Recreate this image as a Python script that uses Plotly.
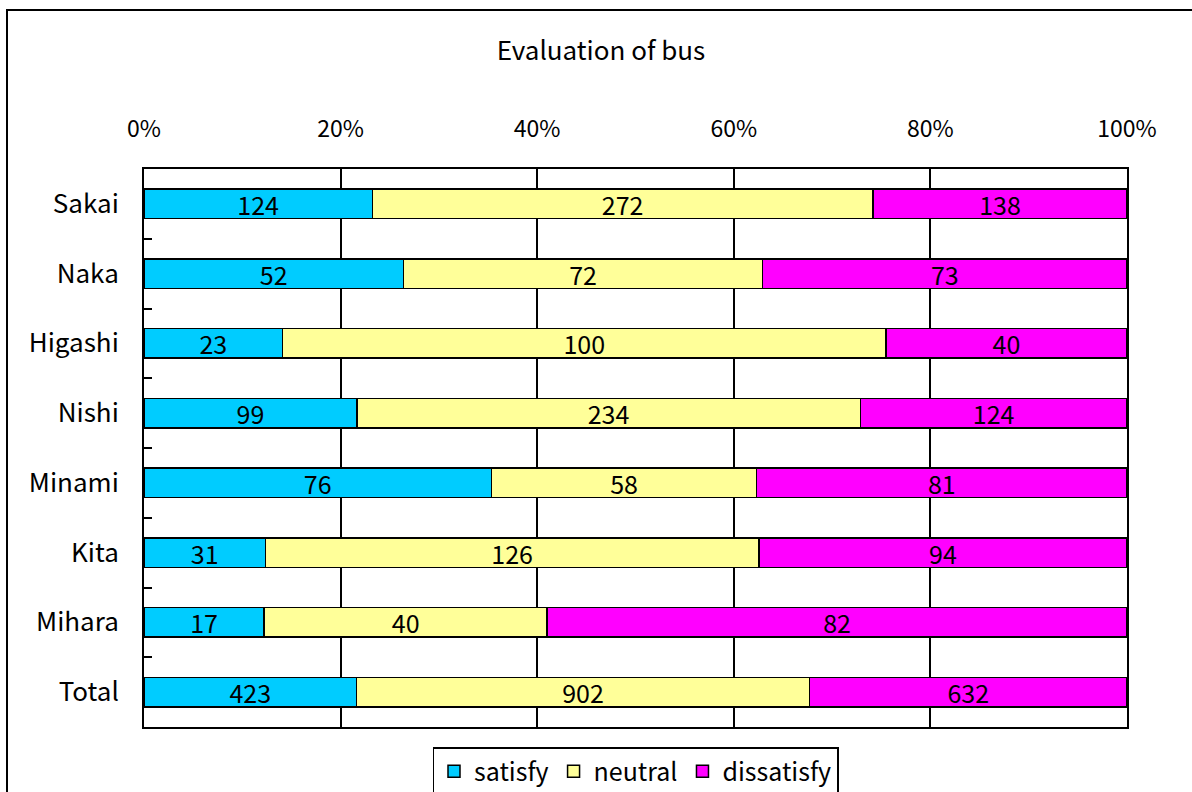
import plotly.graph_objects as go

categories = ["Sakai", "Naka", "Higashi", "Nishi", "Minami", "Kita", "Mihara", "Total"]
satisfy = [124, 52, 23, 99, 76, 31, 17, 423]
neutral = [272, 72, 100, 234, 58, 126, 40, 902]
dissatisfy = [138, 73, 40, 124, 81, 94, 82, 632]
series_names = ["satisfy", "neutral", "dissatisfy"]
colors = ["#00CCFF", "#FFFF99", "#FF00FF"]
x_ticks = [0, 20, 40, 60, 80, 100]

FONT = "Noto Sans CJK JP"
W, H = 1192, 792
L, R, T, B = 144, 65, 169, 65
pw, ph = W - L - R, H - T - B

fig = go.Figure()
for name, vals, col in zip(series_names, [satisfy, neutral, dissatisfy], colors):
    fig.add_trace(go.Bar(
        y=categories, x=vals, name=name, orientation="h",
        marker=dict(color=col, line=dict(color="black", width=1.5)),
        text=[str(v) for v in vals], textposition="inside",
        insidetextanchor="middle", textangle=0, constraintext="none",
        textfont=dict(family=FONT, size=25, color="black"),
        hoverinfo="skip",
    ))

def px_x(p):
    return (p - L) / pw

def px_y(p):
    return (H - B - p) / ph

fig.update_layout(
    width=W, height=H,
    margin=dict(l=L, r=R, t=T, b=B, autoexpand=False),
    barmode="stack", barnorm="percent", bargap=0.58,
    paper_bgcolor="white", plot_bgcolor="white",
    font=dict(family=FONT, size=23, color="black"),
    title=dict(text="Evaluation of bus", xref="container", x=601 / W, xanchor="center",
               yref="container", y=1 - 51 / H, yanchor="middle",
               font=dict(family=FONT, size=26, color="black")),
    xaxis=dict(side="top", range=[0, 100], tickvals=x_ticks,
               ticktext=[f"{v}%" for v in x_ticks], ticks="",
               ticklabelstandoff=21,
               showgrid=True, gridcolor="black", gridwidth=1.5,
               showline=True, linecolor="black", linewidth=2, mirror=True,
               zeroline=False, tickfont=dict(size=23)),
    yaxis=dict(autorange="reversed", tickson="boundaries", ticks="inside",
               ticklen=8, tickwidth=1.5, tickcolor="black",
               ticklabelstandoff=18,
               showline=True, linecolor="black", linewidth=2, mirror=True,
               showgrid=False, tickfont=dict(size=26)),
    legend=dict(orientation="h", x=0.5, xanchor="center",
                y=px_y(747), yanchor="top", traceorder="normal",
                bordercolor="black", borderwidth=1.5,
                font=dict(family=FONT, size=25), itemwidth=30),
    showlegend=True,
    shapes=[dict(type="rect", xref="paper", yref="paper",
                 x0=px_x(7), x1=px_x(1210), y0=px_y(810), y1=px_y(10),
                 line=dict(color="black", width=2), fillcolor="rgba(0,0,0,0)",
                 layer="below")],
)

fig.write_html("out.html")
